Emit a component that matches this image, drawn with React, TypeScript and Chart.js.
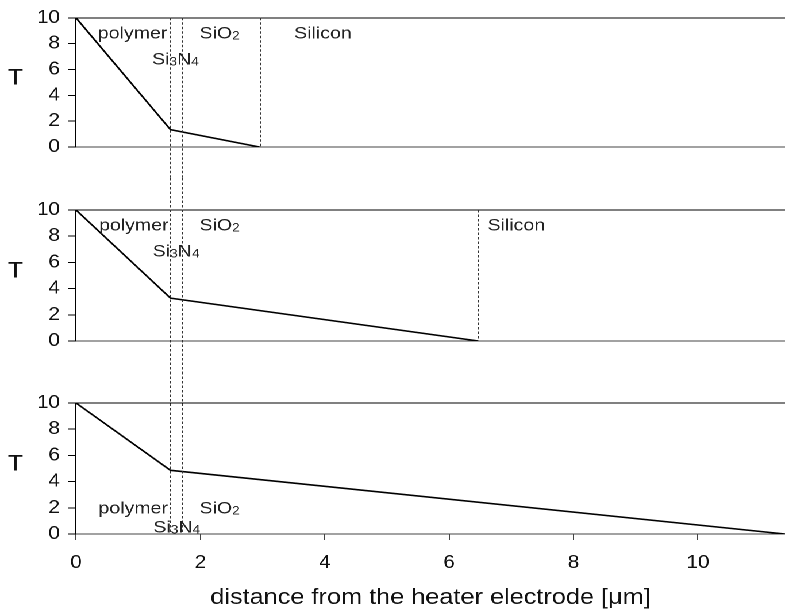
import React, { useEffect, useRef } from "react";
import { Chart, registerables } from "chart.js";
Chart.register(...registerables);

// ---- data ----
const X_MIN = 0;
const X_MAX = 11.4;
const X_STEP = 2;
const Y_MIN = 0;
const Y_MAX = 10;
const Y_STEP = 2;

// layer boundaries shared by all panels: polymer | Si3N4 | SiO2
const layerBounds = [1.52, 1.7];

const panel1X = [0, 1.52, 2.95];
const panel1T = [10, 1.34, 0];
const panel2X = [0, 1.52, 6.47];
const panel2T = [10, 3.27, 0];
const panel3X = [0, 1.52, 11.4];
const panel3T = [10, 4.86, 0];

// SiO2 | Silicon boundary per panel (none visible in the last panel)
const siliconEdge = [2.95, 6.47, null];

const panel1Labels = [
  { text: "polymer", x: 0.91, y: 8.4 },
  { text: "Si3N4", x: 1.6, y: 6.4 },
  { text: "SiO2", x: 2.31, y: 8.4 },
  { text: "Silicon", x: 3.97, y: 8.4 },
];
const panel2Labels = [
  { text: "polymer", x: 0.93, y: 8.45 },
  { text: "Si3N4", x: 1.61, y: 6.45 },
  { text: "SiO2", x: 2.31, y: 8.45 },
  { text: "Silicon", x: 7.08, y: 8.45 },
];
const panel3Labels = [
  { text: "polymer", x: 0.92, y: 1.55 },
  { text: "Si3N4", x: 1.62, y: 0.1 },
  { text: "SiO2", x: 2.31, y: 1.55 },
];

const yTitle = "T";
const xTitle = "distance from the heater electrode [\u03bcm]";

// ---- layout ----
const FONT = "'Liberation Sans', Arial, Helvetica, sans-serif";
const STRETCH = 785 / 683;
const W = 683;

type PanelDef = {
  xs: number[];
  ts: number[];
  labels: { text: string; x: number; y: number }[];
  edge: number | null;
  top: number;
  height: number;
  padTop: number;
  padBottom: number;
  showX: boolean;
  dashFromTop: boolean;
  dashToBottom: boolean;
};

const panels: PanelDef[] = [
  { xs: panel1X, ts: panel1T, labels: panel1Labels, edge: siliconEdge[0], top: 0, height: 178, padTop: 16, padBottom: 31, showX: false, dashFromTop: false, dashToBottom: true },
  { xs: panel2X, ts: panel2T, labels: panel2Labels, edge: siliconEdge[1], top: 178, height: 194, padTop: 32, padBottom: 31, showX: false, dashFromTop: true, dashToBottom: true },
  { xs: panel3X, ts: panel3T, labels: panel3Labels, edge: siliconEdge[2], top: 372, height: 242, padTop: 31, padBottom: 0, showX: true, dashFromTop: true, dashToBottom: false },
];

function drawChem(ctx: CanvasRenderingContext2D, text: string, cx: number, baseY: number, size: number) {
  const parts = text.split(/(\d+)/).filter((p) => p.length > 0);
  const big = `${size}px ${FONT}`;
  const small = `${Math.round(size * 0.72)}px ${FONT}`;
  let total = 0;
  const widths: number[] = [];
  parts.forEach((p) => {
    ctx.font = /^\d+$/.test(p) ? small : big;
    const w = ctx.measureText(p).width;
    widths.push(w);
    total += w;
  });
  let x = cx - total / 2;
  ctx.textAlign = "left";
  ctx.textBaseline = "alphabetic";
  parts.forEach((p, i) => {
    const sub = /^\d+$/.test(p);
    ctx.font = sub ? small : big;
    ctx.fillText(p, x, baseY + (sub ? 1 : 0));
    x += widths[i];
  });
}

function Panel({ def }: { def: PanelDef }) {
  const ref = useRef<HTMLCanvasElement>(null);
  useEffect(() => {
    if (!ref.current) return;
    const overlay = {
      id: "overlay",
      afterDraw(chart: any) {
        const { ctx, chartArea, scales } = chart;
        const xs = scales.x;
        const ys = scales.y;
        ctx.save();
        // dashed layer boundaries
        ctx.strokeStyle = "#333";
        ctx.lineWidth = 1;
        ctx.setLineDash([2.5, 2]);
        const y0 = def.dashFromTop ? 0 : chartArea.top;
        const y1 = def.dashToBottom ? chart.height : chartArea.bottom;
        layerBounds.forEach((b) => {
          const px = Math.round(xs.getPixelForValue(b)) + 0.5;
          ctx.beginPath();
          ctx.moveTo(px, y0);
          ctx.lineTo(px, y1);
          ctx.stroke();
        });
        if (def.edge !== null) {
          const px = Math.round(xs.getPixelForValue(def.edge)) + 0.5;
          ctx.beginPath();
          ctx.moveTo(px, chartArea.top);
          ctx.lineTo(px, chartArea.bottom);
          ctx.stroke();
        }
        ctx.setLineDash([]);
        // layer labels
        ctx.fillStyle = "#222";
        def.labels.forEach((l) => {
          drawChem(ctx, l.text, xs.getPixelForValue(l.x), ys.getPixelForValue(l.y), 17);
        });
        // upright y title
        ctx.fillStyle = "#111";
        ctx.font = `22px ${FONT}`;
        ctx.textAlign = "center";
        ctx.textBaseline = "middle";
        ctx.fillText(yTitle, 13.5, (chartArea.top + chartArea.bottom) / 2 - 4);
        ctx.restore();
      },
    };
    const chart = new Chart(ref.current, {
      type: "line",
      data: {
        datasets: [
          {
            data: def.xs.map((x, i) => ({ x, y: def.ts[i] })),
            borderColor: "#000",
            borderWidth: 1.6,
            pointRadius: 0,
            tension: 0,
            fill: false,
          },
        ],
      },
      options: {
        responsive: false,
        animation: false,
        devicePixelRatio: 2,
        layout: { padding: { top: def.padTop, bottom: def.padBottom, left: 0, right: 0 } },
        plugins: { legend: { display: false }, tooltip: { enabled: false } },
        scales: {
          x: {
            type: "linear",
            display: def.showX,
            min: X_MIN,
            max: X_MAX,
            afterFit: (s: any) => {
              if (def.showX) s.height = 80;
            },
            ticks: {
              stepSize: X_STEP,
              includeBounds: false,
              font: { family: FONT, size: 18 },
              color: "#111",
              padding: 12,
              maxRotation: 0,
            },
            grid: { drawOnChartArea: false, tickLength: 6, tickColor: "#444", lineWidth: 1 },
            border: { color: "#444", width: 1 },
            title: {
              display: true,
              text: xTitle,
              font: { family: FONT, size: 22 },
              color: "#111",
              padding: { top: 0, bottom: 3 },
            },
          },
          y: {
            type: "linear",
            min: Y_MIN,
            max: Y_MAX,
            afterFit: (s: any) => {
              s.width = 76 / STRETCH;
            },
            ticks: {
              stepSize: Y_STEP,
              font: { family: FONT, size: 18 },
              color: "#111",
              padding: 7,
            },
            grid: {
              color: (c: any) => (c.tick && c.tick.value === Y_MAX ? "#000" : c.tick && c.tick.value === Y_MIN ? "#444" : "rgba(0,0,0,0)"),
              tickColor: "#000",
              tickLength: 7,
              lineWidth: 1,
            },
            border: { color: "#000", width: 1 },
          },
        },
      },
      plugins: [overlay],
    } as any);
    return () => chart.destroy();
  }, [def]);
  return (
    <canvas
      ref={ref}
      width={W}
      height={def.height}
      style={{ position: "absolute", left: 0, top: def.top, width: W, height: def.height, display: "block" }}
    />
  );
}

export default function App() {
  return (
    <div style={{ position: "absolute", left: 0, top: 0, width: 785, height: 614, overflow: "hidden", background: "#fff" }}>
      <div
        style={{
          position: "absolute",
          left: 0,
          top: 0,
          width: W,
          height: 614,
          transform: `scaleX(${STRETCH})`,
          transformOrigin: "0 0",
        }}
      >
        {panels.map((p, i) => (
          <Panel key={i} def={p} />
        ))}
      </div>
    </div>
  );
}
